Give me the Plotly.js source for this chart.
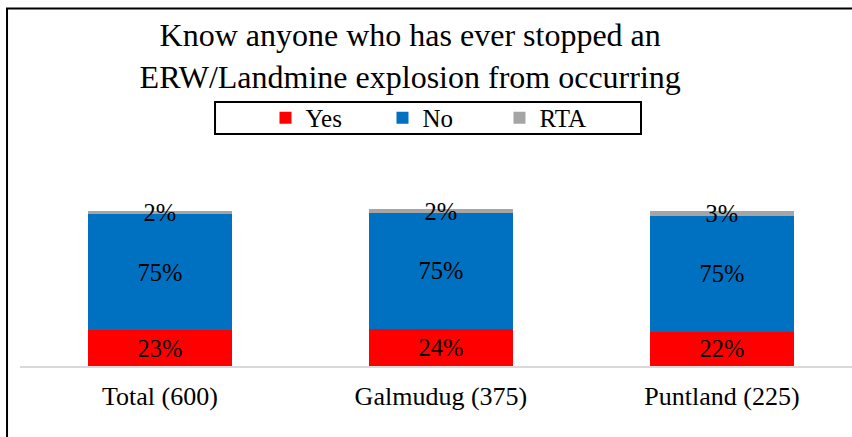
<!DOCTYPE html>
<html>
<head>
<meta charset="utf-8">
<script src="https://cdn.plot.ly/plotly-3.0.1.min.js"></script>
<style>
  body { margin: 0; background: #fff; }
  #plot { width: 852px; height: 437px; }
</style>
</head>
<body>
<div id="plot"></div>
<script>
// regions and share of answers (%)
var regions = ["Total (600)", "Galmudug (375)", "Puntland (225)"];
var yesVals = [23, 24, 22];
var noVals = [75, 75, 75];
var rtaVals = [2, 2, 3];

var serif = "Liberation Serif, Times New Roman, serif";

function pct(arr) {
  return arr.map(function (v) { return v + "%"; });
}

function makeTrace(name, vals, color) {
  return {
    x: regions,
    y: vals,
    name: name,
    type: "bar",
    width: 0.512,
    marker: { color: color },
    text: pct(vals),
    textposition: "inside",
    insidetextanchor: "middle",
    textangle: 0,
    constraintext: "none",
    cliponaxis: false,
    textfont: { family: serif, size: 24.5, color: "#000" },
    hoverinfo: "name+y"
  };
}

var data = [
  makeTrace("Yes", yesVals, "#FF0000"),
  makeTrace("No", noVals, "#0070C0"),
  makeTrace("RTA", rtaVals, "#A5A5A5")
];

var layout = {
  width: 852,
  height: 437,
  margin: { l: 20, r: 0, t: 8, b: 71 },
  paper_bgcolor: "#fff",
  plot_bgcolor: "#fff",
  barmode: "stack",
  showlegend: true,
  font: { family: serif, color: "#000" },
  title: {
    text: "Know anyone who has ever stopped an<br>ERW/Landmine explosion from occurring",
    font: { family: serif, size: 32, color: "#000" },
    x: 0.469,
    xref: "paper",
    xanchor: "center",
    y: 1 - 46 / 437,
    yanchor: "top"
  },
  legend: {
    orientation: "h",
    x: 0.506,
    xanchor: "center",
    y: 0.693,
    yanchor: "middle",
    font: { family: serif, size: 25, color: "#000" },
    bgcolor: "rgba(0,0,0,0)",
    borderwidth: 0,
    entrywidth: 72,
    entrywidthmode: "pixels",
    traceorder: "normal"
  },
  xaxis: {
    range: [-0.498, 2.463],
    showline: true,
    linecolor: "#D9D9D9",
    linewidth: 1.5,
    showgrid: false,
    zeroline: false,
    ticks: "",
    ticklabelstandoff: 6,
    tickfont: { family: serif, size: 26, color: "#000" },
    fixedrange: true
  },
  yaxis: {
    range: [0, 231],
    visible: false,
    showgrid: false,
    zeroline: false,
    fixedrange: true
  },
  shapes: [
    // outer chart frame
    {
      type: "rect", xref: "paper", yref: "paper",
      x0: -0.0156, x1: 1.05, y0: -0.5, y1: 0.9986,
      line: { color: "#000", width: 2 }
    },
    // legend frame
    {
      type: "rect", xref: "paper", yref: "paper",
      x0: 0.2344, x1: 0.7464, y0: 0.648, y1: 0.7374,
      line: { color: "#000", width: 2 }
    }
  ]
};

Plotly.newPlot("plot", data, layout, { displayModeBar: false, staticPlot: true });
</script>
</body>
</html>
